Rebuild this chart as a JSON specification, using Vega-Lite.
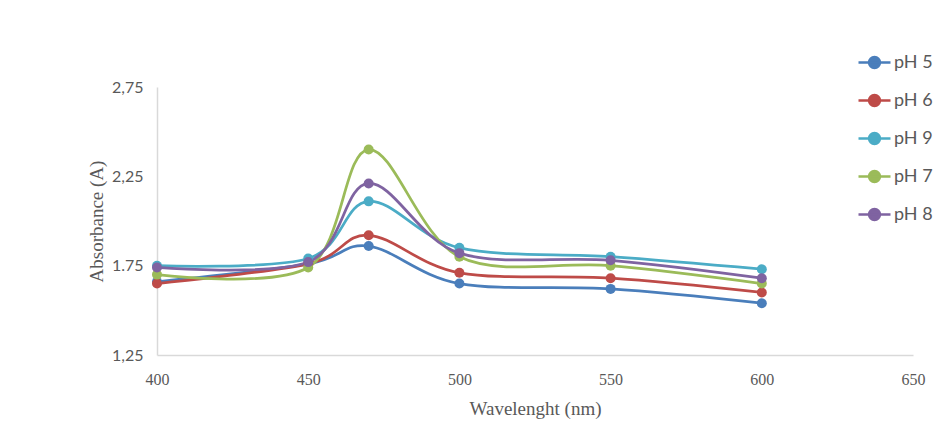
{
  "$schema": "https://vega.github.io/schema/vega-lite/v6.json",
  "width": 756,
  "height": 268,
  "autosize": "none",
  "padding": {"left": 157, "top": 87, "right": 36, "bottom": 71},
  "background": "white",
  "config": {
    "view": {"stroke": null},
    "axis": {"grid": false, "ticks": false, "domainColor": "#d9d9d9", "domainWidth": 1.5, "labelColor": "#595959", "titleColor": "#595959", "titleFontWeight": "normal"}
  },
  "data": {
    "values": [
      {"wl": 400, "A": 1.66, "s": "pH 5"}, {"wl": 450, "A": 1.76, "s": "pH 5"}, {"wl": 470, "A": 1.86, "s": "pH 5"}, {"wl": 500, "A": 1.65, "s": "pH 5"}, {"wl": 550, "A": 1.62, "s": "pH 5"}, {"wl": 600, "A": 1.54, "s": "pH 5"},
      {"wl": 400, "A": 1.65, "s": "pH 6"}, {"wl": 450, "A": 1.76, "s": "pH 6"}, {"wl": 470, "A": 1.92, "s": "pH 6"}, {"wl": 500, "A": 1.71, "s": "pH 6"}, {"wl": 550, "A": 1.68, "s": "pH 6"}, {"wl": 600, "A": 1.60, "s": "pH 6"},
      {"wl": 400, "A": 1.75, "s": "pH 9"}, {"wl": 450, "A": 1.79, "s": "pH 9"}, {"wl": 470, "A": 2.11, "s": "pH 9"}, {"wl": 500, "A": 1.85, "s": "pH 9"}, {"wl": 550, "A": 1.80, "s": "pH 9"}, {"wl": 600, "A": 1.73, "s": "pH 9"},
      {"wl": 400, "A": 1.70, "s": "pH 7"}, {"wl": 450, "A": 1.74, "s": "pH 7"}, {"wl": 470, "A": 2.40, "s": "pH 7"}, {"wl": 500, "A": 1.80, "s": "pH 7"}, {"wl": 550, "A": 1.75, "s": "pH 7"}, {"wl": 600, "A": 1.65, "s": "pH 7"},
      {"wl": 400, "A": 1.74, "s": "pH 8"}, {"wl": 450, "A": 1.77, "s": "pH 8"}, {"wl": 470, "A": 2.21, "s": "pH 8"}, {"wl": 500, "A": 1.82, "s": "pH 8"}, {"wl": 550, "A": 1.78, "s": "pH 8"}, {"wl": 600, "A": 1.68, "s": "pH 8"}
    ]
  },
  "encoding": {
    "x": {
      "field": "wl", "type": "quantitative",
      "scale": {"domain": [400, 650], "nice": false, "zero": false},
      "axis": {"values": [400, 450, 500, 550, 600, 650], "title": "Wavelenght (nm)", "labelFont": "Liberation Serif", "labelFontSize": 16, "labelPadding": 16, "titleFont": "Liberation Serif", "titleFontSize": 19, "titlePadding": 12, "labelFlush": false}
    },
    "y": {
      "field": "A", "type": "quantitative",
      "scale": {"domain": [1.25, 2.75], "nice": false, "zero": false},
      "axis": {"values": [1.25, 1.75, 2.25, 2.75], "title": "Absorbance (A)", "labelExpr": "datum.value == 1.75 ? '1.75' : replace(format(datum.value, '.2f'), '.', ',')", "labelFont": "Lato", "labelFontSize": 16, "labelPadding": 14, "titleFont": "Liberation Serif", "titleFontSize": 19, "titlePadding": 5, "labelFlush": false}
    },
    "color": {
      "field": "s", "type": "nominal",
      "scale": {"domain": ["pH 5", "pH 6", "pH 9", "pH 7", "pH 8"], "range": ["#4a7ebb", "#be4b48", "#4bacc6", "#9bbb59", "#7f63a1"]},
      "legend": {
        "title": null, "orient": "none", "legendX": 700, "legendY": -42,
        "symbolType": "M-1,0H1M-0.34,0A0.34,0.34,0,1,0,0.34,0A0.34,0.34,0,1,0,-0.34,0Z",
        "symbolSize": 1024, "symbolStrokeWidth": 2.5,
        "labelFont": "Lato", "labelFontSize": 18, "labelColor": "#595959", "labelOffset": 2,
        "rowPadding": 10
      }
    }
  },
  "layer": [
    {"mark": {"type": "line", "interpolate": "cardinal", "tension": 0, "strokeWidth": 2.75}},
    {"mark": {"type": "point", "filled": true, "opacity": 1, "size": 100}}
  ]
}
